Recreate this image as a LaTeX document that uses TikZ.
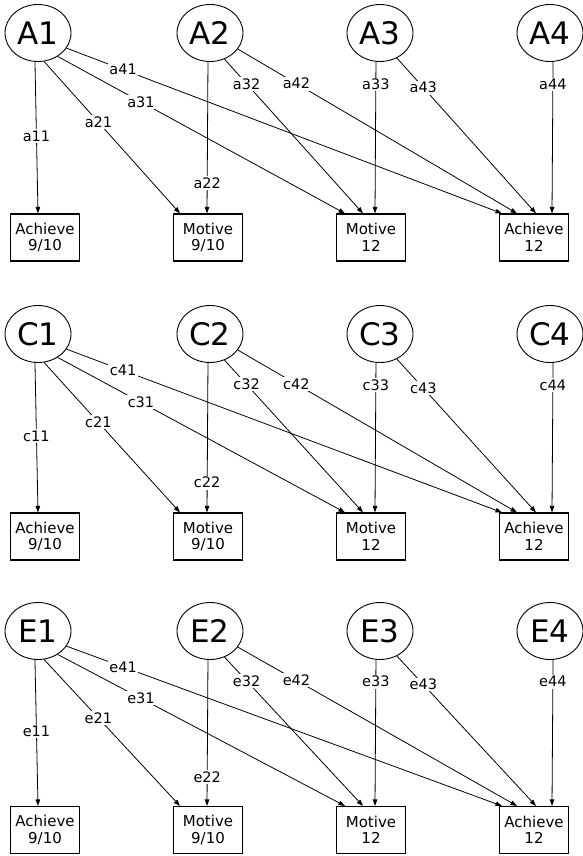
\documentclass[tikz,border=0pt]{standalone}
\usepackage{fontspec}
\setmainfont{DejaVu Sans}
\usetikzlibrary{arrows.meta,shapes.geometric}
\tikzset{
  lat/.style={ellipse,draw,line width=0.9pt,minimum width=66pt,minimum height=57pt,inner sep=0pt,font=\fontsize{31}{32}\selectfont},
  obs/.style={rectangle,draw,line width=1.1pt,minimum width=69pt,minimum height=47pt,inner sep=0pt,align=center,font=\fontsize{15}{16.5}\selectfont},
  arr/.style={line width=0.8pt,-{Triangle[length=6.5pt,width=4.5pt]}},
  lbl/.style={fill=white,inner sep=1.5pt,font=\fontsize{14.5}{15}\selectfont}
}
\newcommand{\drawpanel}[4]{%
  \node[lat] (#11) at (38,#3) {#11};
  \node[lat] (#12) at (210,#3) {#12};
  \node[lat] (#13) at (380,#3) {#13};
  \node[lat] (#14) at (550,#3) {#14};
  \node[obs] (#1b1) at (45,#4) {Achieve\\9/10};
  \node[obs] (#1b2) at (208,#4) {Motive\\9/10};
  \node[obs] (#1b3) at (371,#4) {Motive\\12};
  \node[obs] (#1b4) at (534,#4) {Achieve\\12};
  \draw[arr] (#11.264) -- node[lbl,pos=0.49]{#211} ([xshift=-7pt]#1b1.north);
  \draw[arr] (#11.282) -- node[lbl,pos=0.40]{#221} ([xshift=-28pt]#1b2.north);
  \draw[arr] (#11.310) -- node[lbl,pos=0.29]{#231} ([xshift=-26pt]#1b3.north);
  \draw[arr] (#11.332) -- node[lbl,pos=0.13]{#241} ([xshift=-32pt]#1b4.north);
  \draw[arr] (#12.266) -- node[lbl,pos=0.80]{#222} ([xshift=-1pt]#1b2.north);
  \draw[arr] (#12.299) -- node[lbl,pos=0.16]{#232} ([xshift=-8pt]#1b3.north);
  \draw[arr] (#12.330) -- node[lbl,pos=0.21]{#242} ([xshift=-17pt]#1b4.north);
  \draw[arr] (#13.262) -- node[lbl,pos=0.15]{#233} ([xshift=4pt]#1b3.north);
  \draw[arr] (#13.304) -- node[lbl,pos=0.19]{#243} ([xshift=2pt]#1b4.north);
  \draw[arr] (#14.276) -- node[lbl,pos=0.15]{#244} ([xshift=18pt]#1b4.north);
}
\begin{document}
\begin{tikzpicture}[x=1pt,y=-1pt]
\useasboundingbox (0,0) rectangle (583,856);
\drawpanel{A}{a}{33}{237.5}
\drawpanel{C}{c}{334}{536.5}
\drawpanel{E}{e}{631}{830}
\end{tikzpicture}
\end{document}
